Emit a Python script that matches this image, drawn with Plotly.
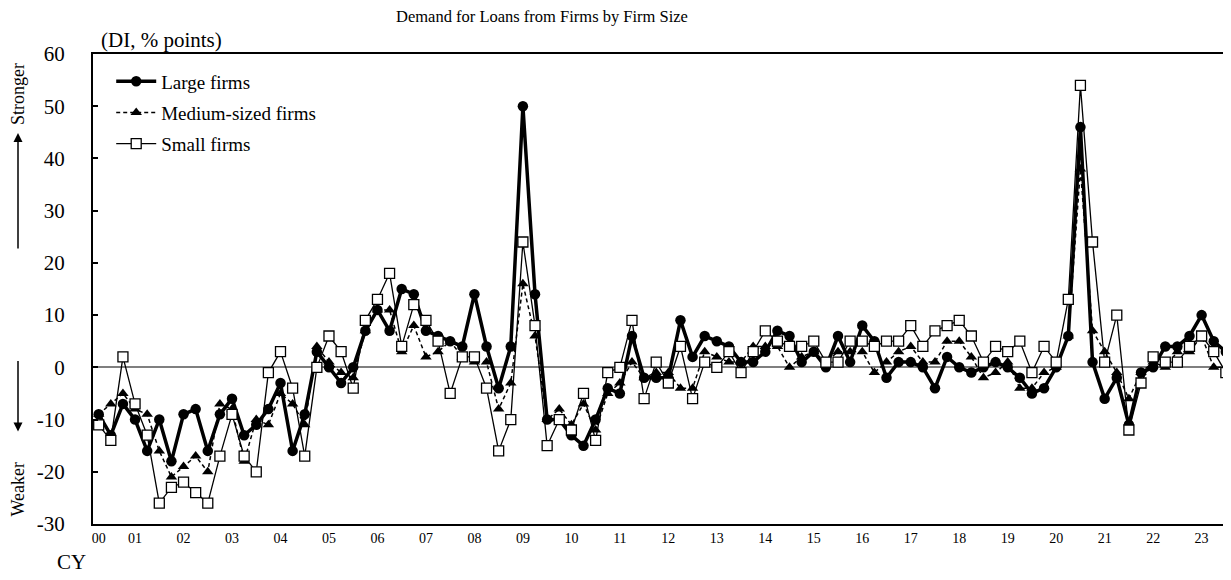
import plotly.graph_objects as go

# Quarterly survey periods, 2000 Q2 (April 2000 survey) to 2023 Q3
quarters = [f"{y}Q{q}" for y in range(2000, 2024) for q in range(1, 5)][1:95]

large = [-9, -13, -7, -10, -16, -10, -18, -9, -8, -16,
         -9, -6, -13, -11, -8, -3, -16, -9, 3, 0,
         -3, 0, 7, 11, 7, 15, 14, 7, 6, 5,
         4, 14, 4, -4, 4, 50, 14, -10, -10, -13,
         -15, -10, -4, -5, 6, -2, -2, -2, 9, 2,
         6, 5, 4, 1, 1, 3, 7, 6, 1, 3,
         0, 6, 1, 8, 5, -2, 1, 1, 0, -4,
         2, 0, -1, 0, 1, 0, -2, -5, -4, 0,
         6, 46, 1, -6, -2, -11, -1, 0, 4, 4,
         6, 10, 5, 3]
medium = [-9, -7, -5, -8, -9, -16, -21, -19, -17, -20,
          -7, -8, -18, -10, -11, -5, -7, -11, 4, 1,
          -1, -2, 7, 11, 11, 3, 8, 2, 3, 5,
          2, 1, 1, -8, -3, 16, 6, -10, -8, -11,
          -7, -12, -5, -3, 1, -2, -1, -1, -4, -4,
          3, 2, 1, 1, 4, 4, 4, 0, 2, 3,
          1, 3, 3, 3, -1, 1, 3, 4, 1, 1,
          5, 5, 2, -2, -1, 1, -4, -4, -1, 0,
          6, 38, 7, 3, -1, -6, -1, 1, 0, 3,
          3, 6, 0, 0]
small = [-11, -14, 2, -7, -13, -26, -23, -22, -24, -26,
         -17, -9, -17, -20, -1, 3, -4, -17, 0, 6,
         3, -4, 9, 13, 18, 4, 12, 9, 5, -5,
         2, 2, -4, -16, -10, 24, 8, -15, -10, -12,
         -5, -14, -1, 0, 9, -6, 1, -3, 4, -6,
         1, 0, 3, -1, 3, 7, 5, 4, 4, 5,
         1, 1, 5, 5, 4, 5, 5, 8, 4, 7,
         8, 9, 6, 1, 4, 3, 5, -1, 4, 1,
         13, 54, 24, 1, 10, -12, -3, 2, 1, 1,
         4, 6, 3, -1]

year_labels = ["00", "01", "02", "03", "04", "05", "06", "07", "08", "09", "10", "11",
               "12", "13", "14", "15", "16", "17", "18", "19", "20", "21", "22", "23"]
y_ticks = [-30, -20, -10, 0, 10, 20, 30, 40, 50, 60]
y_tick_text = ["-30", "-20", "-10", "0", "10", "20", "30", "40", "50", "60"]


def qpos(label):
    y, q = label.split("Q")
    return int(y) + (int(q) - 1) / 4


x = [qpos(q) for q in quarters]
tickvals = [2000.25] + [2001 + k for k in range(len(year_labels) - 1)]

FONT = "Liberation Serif, Times New Roman, serif"

# the page body adds an 8px margin; lay the figure out in page pixels minus that offset
OFF = 8
W, H = 1231 - OFF, 580 - OFF
L, T = 93 - OFF, 54 - OFF
R = 0
B = H - (524.5 - OFF)

fig = go.Figure()
fig.add_trace(go.Scatter(
    x=x, y=large, name="Large firms", mode="lines+markers", legendgroup="a",
    line=dict(color="black", width=3.5),
    marker=dict(symbol="circle", size=10.5, color="black"),
))
fig.add_trace(go.Scatter(
    x=x, y=medium, name="Medium-sized firms", mode="lines+markers", legendgroup="b",
    line=dict(color="black", width=1.5, dash="4px,3px"),
    marker=dict(symbol="triangle-up", size=10, color="black"),
))
fig.add_trace(go.Scatter(
    x=x, y=small, name="Small firms", mode="lines+markers", legendgroup="c",
    line=dict(color="black", width=1.3),
    marker=dict(symbol="square", size=10, color="white",
                line=dict(color="black", width=1.3)),
))

fig.update_layout(
    width=W, height=H,
    margin=dict(l=L, r=R, t=T, b=B, autoexpand=False),
    paper_bgcolor="white", plot_bgcolor="white",
    font=dict(family=FONT, color="black", size=18),
    title=dict(text="Demand for Loans from Firms by Firm Size",
               x=(542 - OFF) / W, xanchor="center", xref="container",
               y=1 - (16 - OFF) / H, yanchor="middle", yref="container",
               font=dict(size=16.5, family=FONT)),
    showlegend=True,
    legend=dict(x=0.016, y=0.982, xanchor="left", yanchor="top",
                bgcolor="rgba(0,0,0,0)", font=dict(size=19, family=FONT),
                itemwidth=40, tracegroupgap=3.5),
    xaxis=dict(range=[2000.1324, 2023.606], showgrid=False, zeroline=False,
               showline=True, linecolor="black", linewidth=2, mirror=True,
               tickmode="array", tickvals=tickvals, ticktext=year_labels,
               ticks="", tickfont=dict(size=14, family=FONT)),
    yaxis=dict(range=[-30, 60], showgrid=False,
               zeroline=True, zerolinecolor="#7f7f7f", zerolinewidth=1.5,
               showline=True, linecolor="black", linewidth=2, mirror=False,
               tickmode="array", tickvals=y_ticks, ticktext=y_tick_text,
               ticks="inside", ticklen=5, tickcolor="black", tickwidth=1.5,
               ticklabelstandoff=22,
               tickfont=dict(size=21, family=FONT)),
)


def px_to_paper_x(px):
    return (px - OFF - L) / (W - L - R)


def px_to_paper_y(py):
    return 1 - (py - OFF - T) / (H - T - B)


ann = []
ann.append(dict(text="(DI, % points)", x=px_to_paper_x(99), y=px_to_paper_y(40),
                xref="paper", yref="paper", xanchor="left", yanchor="middle",
                showarrow=False, font=dict(size=21, family=FONT)))
ann.append(dict(text="CY", x=px_to_paper_x(71), y=px_to_paper_y(563),
                xref="paper", yref="paper", xanchor="center", yanchor="middle",
                showarrow=False, font=dict(size=21, family=FONT)))
ann.append(dict(text="Stronger", x=px_to_paper_x(18), y=px_to_paper_y(94),
                xref="paper", yref="paper", xanchor="center", yanchor="middle",
                textangle=-90, showarrow=False, font=dict(size=18, family=FONT)))
ann.append(dict(text="Weaker", x=px_to_paper_x(18), y=px_to_paper_y(490),
                xref="paper", yref="paper", xanchor="center", yanchor="middle",
                textangle=-90, showarrow=False, font=dict(size=18, family=FONT)))
# arrows
ann.append(dict(text="", x=px_to_paper_x(18), y=px_to_paper_y(133),
                xref="paper", yref="paper", showarrow=True, axref="pixel", ayref="pixel",
                ax=0, ay=117, arrowhead=2, arrowsize=1.2, arrowwidth=1.5, arrowcolor="black",
                standoff=0, startstandoff=0))
ann.append(dict(text="", x=px_to_paper_x(18), y=px_to_paper_y(432),
                xref="paper", yref="paper", showarrow=True, axref="pixel", ayref="pixel",
                ax=0, ay=-72, arrowhead=2, arrowsize=1.2, arrowwidth=1.5, arrowcolor="black",
                standoff=0, startstandoff=0))
fig.update_layout(annotations=ann)

fig.write_html("out.html")
